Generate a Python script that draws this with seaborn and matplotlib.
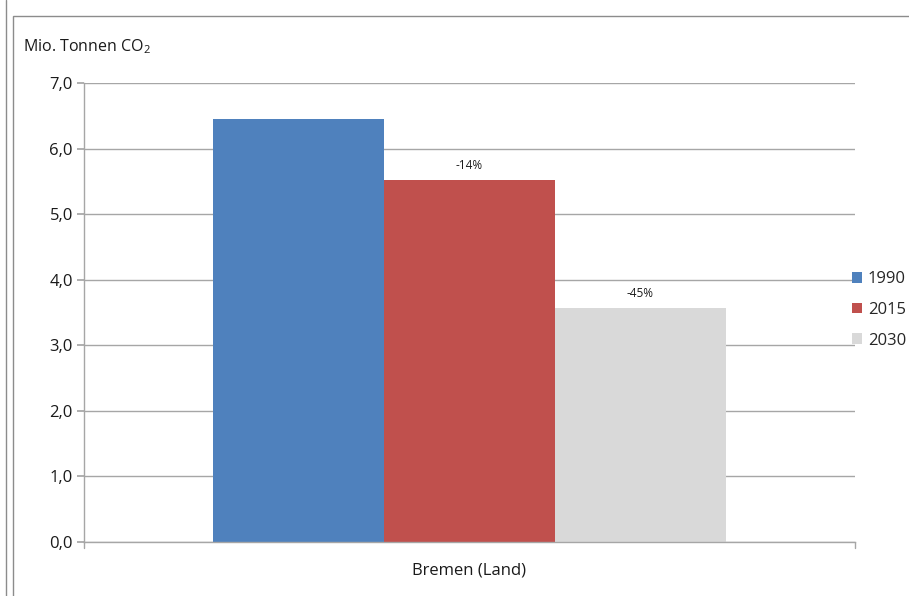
import matplotlib
matplotlib.use("Agg")
import matplotlib.pyplot as plt
import seaborn as sns
import pandas as pd
from matplotlib.patches import Rectangle
from matplotlib.ticker import FuncFormatter, MultipleLocator

categories = ["Bremen (Land)"]
years = ["1990", "2015", "2030"]
values = [6.45, 5.52, 3.57]
change_labels = ["", "-14%", "-45%"]
colors = ["#4F81BD", "#C0504D", "#D9D9D9"]

sns.set_theme(style="white")
plt.rcParams["font.family"] = ["Open Sans", "DejaVu Sans"]
plt.rcParams["mathtext.fontset"] = "custom"
plt.rcParams["mathtext.rm"] = "Open Sans"
plt.rcParams["mathtext.it"] = "Open Sans"

df = pd.DataFrame({"Region": categories * len(years), "Jahr": years, "Wert": values})

fig = plt.figure(figsize=(9.09, 5.96), dpi=100)
ax = fig.add_axes([84 / 909, 1 - 542 / 596, (855 - 84) / 909, (542 - 83) / 596])

sns.barplot(data=df, x="Region", y="Wert", hue="Jahr", palette=colors,
            width=0.665, saturation=1, ax=ax, legend=True, linewidth=0)

for cont, lab in zip(ax.containers, change_labels):
    ax.bar_label(cont, labels=[lab], padding=6, fontsize=8.5, color="#1a1a1a")

ax.set_ylim(0, 7)
ax.set_xlim(-0.5, 0.5)
ax.yaxis.set_major_locator(MultipleLocator(1))
ax.yaxis.set_major_formatter(FuncFormatter(lambda v, p: f"{v:.1f}".replace(".", ",")))
ax.set_axisbelow(True)
ax.grid(axis="y", color="#A6A6A6", linewidth=1)
ax.set_xlabel("")
ax.set_ylabel("")
for s in ["top", "right"]:
    ax.spines[s].set_visible(False)
for s in ["left", "bottom"]:
    ax.spines[s].set_color("#A6A6A6")
    ax.spines[s].set_linewidth(1)
ax.tick_params(axis="y", left=True, length=5, color="#A6A6A6", labelsize=12,
               labelcolor="#1a1a1a", pad=3)
ax.tick_params(axis="x", bottom=False, labelsize=12, labelcolor="#1a1a1a", pad=9)
ax.set_xticks([0])
ax.set_xticklabels(categories)
for xb in [-0.5, 0.5]:
    ax.plot([xb, xb], [0, -0.012], transform=ax.get_xaxis_transform(),
            color="#A6A6A6", lw=1, clip_on=False)

fig.text(23 / 909, 1 - 47 / 596, "Mio. Tonnen CO$_2$", fontsize=11.5,
         color="#1a1a1a", va="center", ha="left")

handles, labels = ax.get_legend_handles_labels()
ax.legend(handles, labels, loc="center left", bbox_to_anchor=(852 / 909, 1 - 310 / 596),
          bbox_transform=fig.transFigure, frameon=False, fontsize=12,
          handlelength=0.6, handleheight=0.6, handletextpad=0.35, labelspacing=0.88,
          borderpad=0, borderaxespad=0)

fig.patches.append(Rectangle((13 / 909, -0.05), 1.0, 1.05 - 16 / 596, transform=fig.transFigure,
                             fill=False, edgecolor="#8C8C8C", lw=1))
fig.lines.append(plt.Line2D([6 / 909, 6 / 909], [0, 1], transform=fig.transFigure,
                            color="#8C8C8C", lw=1))

fig.savefig("out.png", dpi=100)
